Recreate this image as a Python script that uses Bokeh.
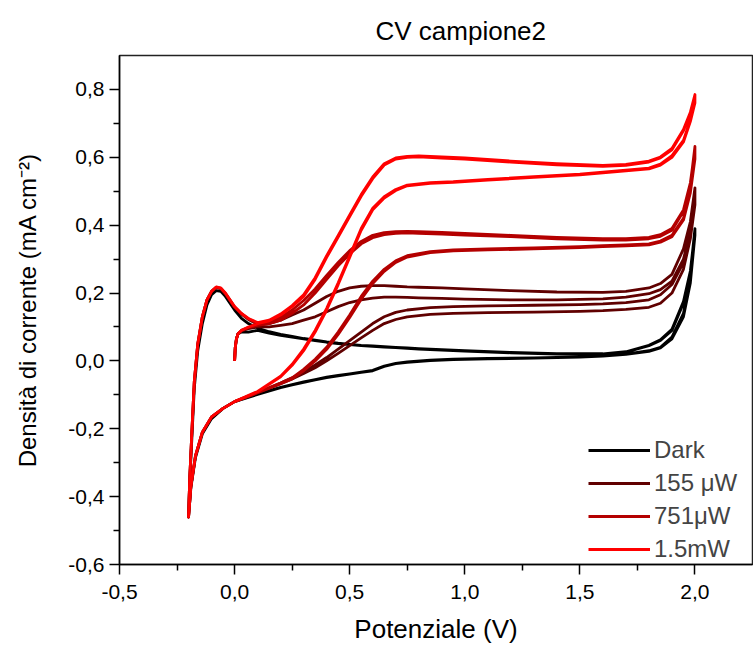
import numpy as np
from bokeh.plotting import figure
from bokeh.models import FixedTicker, Legend, LegendItem, Title
from bokeh.embed import file_html
from bokeh.resources import INLINE

# ---------------- data ----------------
X_TICKS = [-0.5, 0.0, 0.5, 1.0, 1.5, 2.0]
X_MINOR = [-0.25, 0.25, 0.75, 1.25, 1.75]
X_LABELS = ["-0,5", "0,0", "0,5", "1,0", "1,5", "2,0"]
Y_TICKS = [-0.6, -0.4, -0.2, 0.0, 0.2, 0.4, 0.6, 0.8]
Y_MINOR = [-0.5, -0.3, -0.1, 0.1, 0.3, 0.5, 0.7]
Y_LABELS = ["-0,6", "-0,4", "-0,2", "0,0", "0,2", "0,4", "0,6", "0,8"]

SERIES = ["Dark", "155 μW", "751μW", "1.5mW"]
COLORS = ["#000000", "#600000", "#b40000", "#ff0000"]

# potentials at which the branches were read
START_X = [0.0, 0.003, 0.008, 0.015, 0.03, 0.06]
FWD_X = [0.1, 0.15, 0.2, 0.25, 0.3, 0.35, 0.4, 0.45, 0.5, 0.55, 0.6, 0.65, 0.7,
         0.75, 0.8, 0.9, 1.0, 1.2, 1.4, 1.6, 1.7, 1.8, 1.85, 1.9, 1.95, 1.98, 2.0]
REV_X = [2.0, 1.98, 1.95, 1.9, 1.85, 1.8, 1.7, 1.6, 1.5, 1.3, 1.1, 0.95, 0.85,
         0.75, 0.7, 0.65, 0.6, 0.55, 0.5, 0.45, 0.4, 0.35, 0.3, 0.25, 0.2, 0.1,
         0.0, -0.05, -0.1, -0.14, -0.17, -0.19, -0.2]
HOOK_X = [-0.2, -0.195, -0.185, -0.175, -0.16, -0.14, -0.12, -0.1, -0.08, -0.06,
          -0.04, -0.02, 0.0, 0.03, 0.06]

# Dark
dark_start = [0.0, 0.04, 0.065, 0.08, 0.085, 0.085]
dark_fwd_a = [0.09, 0.082, 0.075, 0.07, 0.065, 0.06, 0.055, 0.051, 0.048, 0.045, 0.043, 0.041, 0.039,
              0.037, 0.035, 0.032, 0.029, 0.024, 0.02, 0.02, 0.026, 0.045, 0.06, 0.09, 0.17, 0.26, 0.39]
dark_rev_a = [0.38, 0.24, 0.14, 0.07, 0.04, 0.03, 0.02, 0.015, 0.012, 0.009, 0.007, 0.005, 0.002,
              -0.003, -0.007, -0.015, -0.028, -0.033, -0.038, -0.043, -0.048, -0.055, -0.062, -0.07, -0.078, -0.098,
              -0.12, -0.14, -0.17, -0.215, -0.285, -0.375, -0.46]
dark_hook = [-0.46, -0.36, -0.22, -0.08, 0.03, 0.11, 0.165, 0.195, 0.207, 0.205, 0.19, 0.17, 0.15, 0.125, 0.11]
dark_fwd_b = [0.097, 0.086, 0.078, 0.072, 0.066, 0.061, 0.056, 0.052, 0.049, 0.046, 0.044, 0.042, 0.04,
              0.038, 0.036, 0.033, 0.03, 0.025, 0.021, 0.021, 0.027, 0.046, 0.062, 0.093, 0.175, 0.265, 0.385]
dark_rev_b = [0.37, 0.23, 0.13, 0.065, 0.038, 0.028, 0.019, 0.014, 0.011, 0.008, 0.006, 0.004, 0.001,
              -0.004, -0.008, -0.016, -0.029, -0.034, -0.039, -0.044, -0.049, -0.056, -0.063, -0.071, -0.079, -0.099,
              -0.12, -0.14, -0.17, -0.215, -0.285, -0.375, -0.46]

# 155 uW
p155_start = [0.0, 0.04, 0.065, 0.08, 0.088, 0.095]
p155_fwd_a = [0.1, 0.1, 0.105, 0.11, 0.12, 0.13, 0.145, 0.16, 0.172, 0.18, 0.185, 0.188, 0.188,
              0.187, 0.186, 0.184, 0.182, 0.18, 0.18, 0.183, 0.188, 0.198, 0.21, 0.235, 0.3, 0.38, 0.49]
p155_rev_a = [0.475, 0.38, 0.29, 0.225, 0.195, 0.18, 0.172, 0.168, 0.166, 0.164, 0.162, 0.16, 0.157,
              0.15, 0.143, 0.13, 0.11, 0.085, 0.06, 0.035, 0.01, -0.012, -0.032, -0.05, -0.065, -0.093,
              -0.12, -0.14, -0.165, -0.21, -0.28, -0.37, -0.46]
p155_hook = [-0.46, -0.35, -0.2, -0.06, 0.05, 0.13, 0.18, 0.205, 0.216, 0.213, 0.198, 0.178, 0.158, 0.138, 0.122]
p155_fwd_b = [0.108, 0.11, 0.12, 0.135, 0.15, 0.17, 0.19, 0.205, 0.215, 0.22, 0.222, 0.222, 0.22,
              0.218, 0.217, 0.215, 0.212, 0.207, 0.203, 0.202, 0.205, 0.215, 0.228, 0.255, 0.33, 0.41, 0.51]
p155_rev_b = [0.46, 0.36, 0.27, 0.2, 0.17, 0.158, 0.152, 0.148, 0.146, 0.144, 0.142, 0.14, 0.137,
              0.13, 0.122, 0.11, 0.09, 0.068, 0.045, 0.022, 0.0, -0.02, -0.037, -0.053, -0.067, -0.094,
              -0.12, -0.14, -0.165, -0.21, -0.28, -0.37, -0.46]

# 751 uW
p751_start = [0.0, 0.04, 0.065, 0.08, 0.09, 0.098]
p751_fwd_a = [0.105, 0.11, 0.12, 0.14, 0.165, 0.2, 0.24, 0.28, 0.315, 0.345, 0.363, 0.372, 0.376,
              0.377, 0.376, 0.374, 0.371, 0.366, 0.36, 0.356, 0.356, 0.36, 0.367, 0.385, 0.44, 0.52, 0.632]
p751_rev_a = [0.6, 0.5, 0.42, 0.37, 0.353, 0.345, 0.342, 0.34, 0.337, 0.333, 0.33, 0.327, 0.322,
              0.31, 0.295, 0.27, 0.235, 0.19, 0.135, 0.085, 0.04, 0.005, -0.025, -0.05, -0.065, -0.093,
              -0.12, -0.14, -0.165, -0.21, -0.28, -0.37, -0.46]
p751_hook = [-0.46, -0.35, -0.2, -0.06, 0.05, 0.13, 0.18, 0.205, 0.217, 0.214, 0.199, 0.179, 0.159, 0.139, 0.124]
p751_fwd_b = [0.11, 0.115, 0.128, 0.15, 0.178, 0.212, 0.252, 0.29, 0.325, 0.352, 0.37, 0.378, 0.381,
              0.382, 0.381, 0.379, 0.376, 0.37, 0.364, 0.36, 0.36, 0.364, 0.372, 0.39, 0.445, 0.525, 0.625]
p751_rev_b = [0.595, 0.495, 0.415, 0.366, 0.35, 0.342, 0.339, 0.337, 0.334, 0.33, 0.327, 0.324, 0.319,
              0.306, 0.29, 0.264, 0.228, 0.182, 0.128, 0.078, 0.034, 0.0, -0.029, -0.053, -0.067, -0.094,
              -0.12, -0.14, -0.165, -0.21, -0.28, -0.37, -0.46]

# 1.5 mW
p15_start = [0.0, 0.04, 0.065, 0.08, 0.09, 0.1]
p15_fwd_a = [0.11, 0.118, 0.135, 0.16, 0.19, 0.24, 0.305, 0.365, 0.425, 0.485, 0.537, 0.577, 0.595,
             0.6, 0.601, 0.598, 0.595, 0.586, 0.578, 0.573, 0.576, 0.586, 0.598, 0.622, 0.678, 0.728, 0.78]
p15_rev_a = [0.765, 0.71, 0.65, 0.605, 0.58, 0.568, 0.562, 0.556, 0.55, 0.543, 0.535, 0.528, 0.525,
             0.518, 0.505, 0.484, 0.45, 0.39, 0.31, 0.23, 0.155, 0.09, 0.035, -0.01, -0.045, -0.09,
             -0.12, -0.14, -0.165, -0.21, -0.28, -0.37, -0.46]
p15_hook = [-0.46, -0.35, -0.2, -0.06, 0.05, 0.13, 0.18, 0.205, 0.218, 0.215, 0.2, 0.18, 0.16, 0.14, 0.125]
p15_fwd_b = [0.113, 0.12, 0.138, 0.163, 0.195, 0.245, 0.31, 0.37, 0.43, 0.49, 0.542, 0.581, 0.598,
             0.603, 0.604, 0.601, 0.598, 0.589, 0.581, 0.576, 0.579, 0.589, 0.601, 0.626, 0.682, 0.733, 0.785]
p15_rev_b = [0.76, 0.705, 0.645, 0.6, 0.577, 0.566, 0.56, 0.554, 0.548, 0.541, 0.533, 0.526, 0.523,
             0.516, 0.502, 0.48, 0.445, 0.385, 0.305, 0.225, 0.15, 0.085, 0.03, -0.013, -0.047, -0.091,
             -0.12, -0.14, -0.165, -0.21, -0.28, -0.37, -0.46]

BRANCHES = {
    "Dark": [dark_start, dark_fwd_a, dark_rev_a, dark_hook, dark_fwd_b, dark_rev_b],
    "155 μW": [p155_start, p155_fwd_a, p155_rev_a, p155_hook, p155_fwd_b, p155_rev_b],
    "751μW": [p751_start, p751_fwd_a, p751_rev_a, p751_hook, p751_fwd_b, p751_rev_b],
    "1.5mW": [p15_start, p15_fwd_a, p15_rev_a, p15_hook, p15_fwd_b, p15_rev_b],
}
BRANCH_X = [START_X, FWD_X, REV_X, HOOK_X, FWD_X, REV_X]

TITLE = "CV campione2"

# ---------------- figure ----------------
FONT = "Liberation Sans"

p = figure(width=753, height=648, x_range=(-0.5, 2.25), y_range=(-0.6, 0.9),
           output_backend="svg", toolbar_location=None,
           min_border_left=119, min_border_right=1, min_border_top=55, min_border_bottom=84)

p.title = Title(text=TITLE, align="left", offset=256, standoff=16, vertical_align="top",
                text_font=FONT, text_font_size="26px", text_font_style="normal", text_color="black")

p.xgrid.visible = False
p.ygrid.visible = False
p.background_fill_color = "white"
p.border_fill_color = "white"
p.outline_line_color = "#222222"
p.outline_line_width = 1.5

p.xaxis.ticker = FixedTicker(ticks=X_TICKS, minor_ticks=X_MINOR)
p.yaxis.ticker = FixedTicker(ticks=Y_TICKS, minor_ticks=Y_MINOR)
p.xaxis.major_label_overrides = dict(zip(X_TICKS, X_LABELS))
p.yaxis.major_label_overrides = dict(zip(Y_TICKS, Y_LABELS))

for ax in (p.xaxis[0], p.yaxis[0]):
    ax.axis_line_width = 1.5
    ax.axis_line_color = "black"
    ax.major_tick_in = 0
    ax.major_tick_out = 10
    ax.minor_tick_in = 0
    ax.minor_tick_out = 6
    ax.major_tick_line_width = 1.5
    ax.minor_tick_line_width = 1.5
    ax.major_tick_line_color = "black"
    ax.minor_tick_line_color = "black"
    ax.major_label_text_font = FONT
    ax.major_label_text_font_size = "21px"
    ax.major_label_text_color = "black"
    ax.axis_label_text_font = FONT
    ax.axis_label_text_font_style = "normal"
    ax.axis_label_text_color = "black"

p.xaxis.axis_label = "Potenziale (V)"
p.yaxis.axis_label = "Densità di corrente (mA cm⁻²)"
p.xaxis.axis_label_text_font_size = "26px"
p.yaxis.axis_label_text_font_size = "24px"
p.xaxis.major_label_standoff = 10
p.yaxis.major_label_standoff = 5
p.xaxis.axis_label_standoff = 12
p.yaxis.axis_label_standoff = 24

items = []
for name, color in zip(SERIES, COLORS):
    xs = np.concatenate([np.asarray(b, dtype=float) for b in BRANCH_X])
    ys = np.concatenate([np.asarray(b, dtype=float) for b in BRANCHES[name]])
    r = p.line(xs, ys, line_color=color, line_width=2.8, line_join="round")
    items.append(LegendItem(label=name, renderers=[r]))

legend = Legend(items=items, location=(469, 1), orientation="vertical",
                label_text_font=FONT, label_text_font_size="24px",
                glyph_width=62, glyph_height=20, label_height=20, spacing=5,
                label_standoff=4, padding=0, margin=0,
                border_line_color=None, background_fill_alpha=0)
p.add_layout(legend, "center")

open("out.html", "w").write(file_html(p, INLINE))
